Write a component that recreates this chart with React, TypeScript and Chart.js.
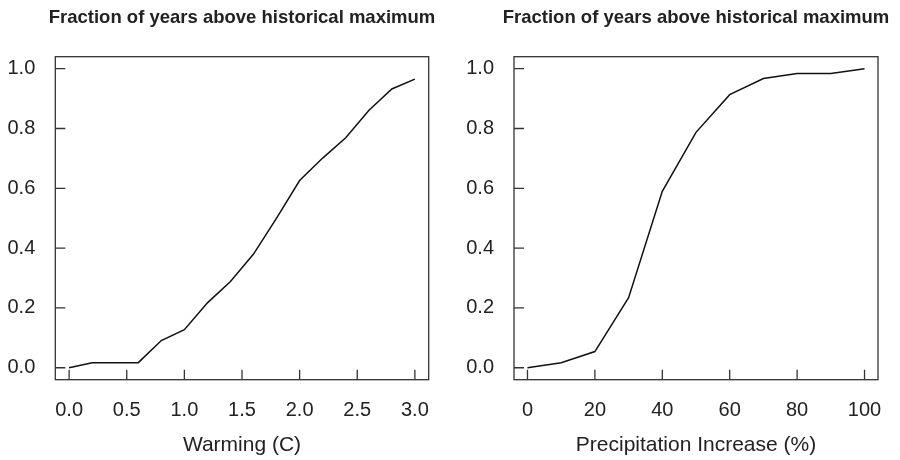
import React, { useEffect, useRef } from "react";
import { Chart, registerables } from "chart.js";

Chart.register(...registerables);

// Warming scenario: fraction of years above the historical maximum
const warmingC = [0.0, 0.2, 0.4, 0.6, 0.8, 1.0, 1.2, 1.4, 1.6, 1.8, 2.0, 2.2, 2.4, 2.6, 2.8, 3.0];
const warmingFraction = [0.0, 0.017, 0.017, 0.017, 0.091, 0.127, 0.217, 0.288, 0.38, 0.5, 0.626, 0.701, 0.769, 0.86, 0.932, 0.965];

// Precipitation scenario: fraction of years above the historical maximum
const precipIncrease = [0, 10, 20, 30, 40, 50, 60, 70, 80, 90, 100];
const precipFraction = [0.0, 0.017, 0.054, 0.234, 0.59, 0.787, 0.913, 0.967, 0.984, 0.984, 1.0];

// Axis ticks
const warmingTicks = [0, 0.5, 1.0, 1.5, 2.0, 2.5, 3.0];
const precipTicks = [0, 20, 40, 60, 80, 100];
const fractionTicks = [0, 0.2, 0.4, 0.6, 0.8, 1.0];

const panelTitle = "Fraction of years above historical maximum";
const warmingLabel = "Warming (C)";
const precipLabel = "Precipitation Increase (%)";

const FONT = '"Liberation Sans", Arial, Helvetica, sans-serif';
const TEXT = "#222";

// Draws the box around the plot region, inward tick marks and the panel heading
const framePlugin = {
  id: "panelFrame",
  afterDatasetsDraw(chart: any, _args: any, opts: any) {
    const { ctx, chartArea: a, scales } = chart;
    ctx.save();
    ctx.strokeStyle = "#333";
    ctx.lineWidth = 1.3;
    ctx.strokeRect(a.left, a.top, a.right - a.left, a.bottom - a.top);
    ctx.beginPath();
    scales.x.ticks.forEach((t: any) => {
      const px = scales.x.getPixelForValue(t.value);
      ctx.moveTo(px, a.bottom);
      ctx.lineTo(px, a.bottom - 10);
    });
    scales.y.ticks.forEach((t: any) => {
      const py = scales.y.getPixelForValue(t.value);
      ctx.moveTo(a.left, py);
      ctx.lineTo(a.left + 10, py);
    });
    ctx.stroke();
    ctx.font = `bold 18.5px ${FONT}`;
    ctx.fillStyle = TEXT;
    ctx.textAlign = "center";
    ctx.textBaseline = "middle";
    ctx.fillText(opts.text, (a.left + a.right) / 2, 17.5);
    ctx.restore();
  },
};

type PanelProps = {
  xs: number[];
  ys: number[];
  xMin: number;
  xMax: number;
  xTicks: number[];
  xDecimals: number;
  xTitle: string;
  areaLeft: number;
  areaRight: number;
};

function Panel({ xs, ys, xMin, xMax, xTicks, xDecimals, xTitle, areaLeft, areaRight }: PanelProps) {
  const ref = useRef<HTMLCanvasElement | null>(null);

  useEffect(() => {
    if (!ref.current) return;
    const tickFont = { family: FONT, size: 20 };
    const titleFont = { family: FONT, size: 21 };
    const chart = new Chart(ref.current, {
      type: "line",
      data: {
        datasets: [
          {
            data: xs.map((x, i) => ({ x, y: ys[i] })),
            borderColor: "#111",
            borderWidth: 1.5,
            pointRadius: 0,
            tension: 0,
            fill: false,
          },
        ],
      },
      options: {
        animation: false,
        responsive: false,
        devicePixelRatio: 1,
        layout: { padding: { top: 56.7, right: 450 - areaRight, bottom: 0, left: 0 } },
        plugins: {
          legend: { display: false },
          tooltip: { enabled: false },
          panelFrame: { text: panelTitle },
        } as any,
        scales: {
          x: {
            type: "linear",
            min: xMin,
            max: xMax,
            afterBuildTicks: (s: any) => {
              s.ticks = xTicks.map((v) => ({ value: v }));
            },
            afterFit: (s: any) => {
              s.height = 80.3;
            },
            grid: { display: false, drawTicks: false },
            border: { display: false },
            ticks: {
              color: TEXT,
              font: tickFont,
              padding: 18.3,
              maxRotation: 0,
              autoSkip: false,
              callback: (v: any) => Number(v).toFixed(xDecimals),
            },
            title: {
              display: true,
              text: xTitle,
              color: TEXT,
              font: titleFont,
              padding: { top: 0, bottom: 2 },
            },
          },
          y: {
            type: "linear",
            min: -0.04,
            max: 1.04,
            afterBuildTicks: (s: any) => {
              s.ticks = fractionTicks.map((v) => ({ value: v }));
            },
            afterFit: (s: any) => {
              s.width = areaLeft;
            },
            grid: { display: false, drawTicks: false },
            border: { display: false },
            ticks: {
              color: TEXT,
              font: tickFont,
              padding: 20,
              callback: (v: any) => Number(v).toFixed(1),
            },
          },
        },
      } as any,
      plugins: [framePlugin],
    });
    return () => chart.destroy();
  }, []);

  return <canvas ref={ref} width={450} height={460} style={{ display: "block", width: 450, height: 460 }} />;
}

export default function App() {
  return (
    <div style={{ position: "absolute", left: 0, top: 0, width: 900, height: 460, display: "flex", background: "#fff" }}>
      <Panel
        xs={warmingC}
        ys={warmingFraction}
        xMin={-0.12}
        xMax={3.12}
        xTicks={warmingTicks}
        xDecimals={1}
        xTitle={warmingLabel}
        areaLeft={55.3}
        areaRight={428.7}
      />
      <Panel
        xs={precipIncrease}
        ys={precipFraction}
        xMin={-4}
        xMax={104}
        xTicks={precipTicks}
        xDecimals={0}
        xTitle={precipLabel}
        areaLeft={64}
        areaRight={436.7}
      />
    </div>
  );
}
